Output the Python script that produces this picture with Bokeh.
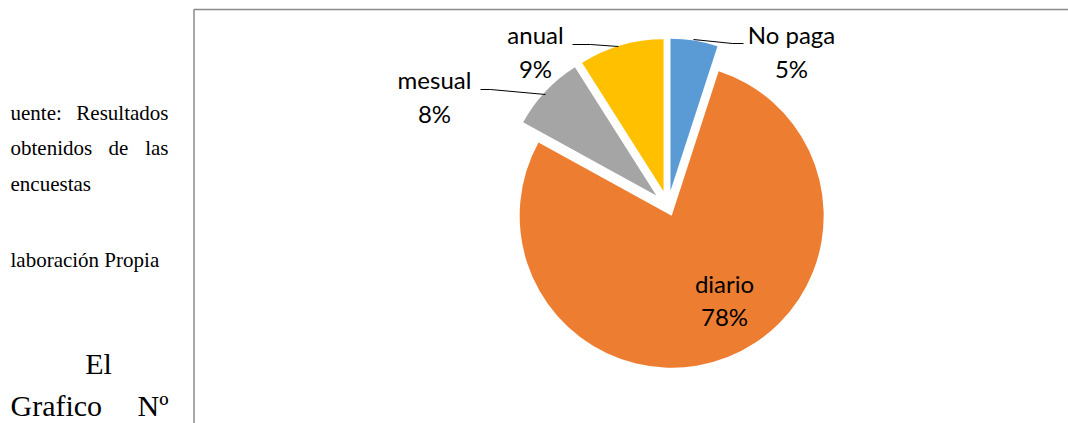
import math
from bokeh.plotting import figure
from bokeh.models import Range1d, ColumnDataSource
from bokeh.core.properties import value
from bokeh.embed import file_html
from bokeh.resources import INLINE

# ---- data ----
categories = ["No paga", "diario", "mesual", "anual"]
percent = [5, 78, 8, 9]
colors = ["#5B9BD5", "#ED7D31", "#A5A5A5", "#FFC000"]

# ---- layout / style (screen pixel coordinates of the page) ----
explode = [16, 10, 16, 16]
label_x = [791, 724, 434, 535]
label_y1 = [43, 292, 88, 43]     # baseline of category line
label_y2 = [77, 325, 122, 77]    # baseline of percent line

W, H = 1068, 423
PAGE_H = 423
TEXT_DY = 9  # empirical baseline correction for the svg text


def sy(y):
    return PAGE_H - y


def ty(y):
    return PAGE_H - (y - TEXT_DY)


p = figure(width=W, height=H, x_range=Range1d(0, W), y_range=Range1d(0, H),
           output_backend="svg", toolbar_location=None, min_border=0)
p.axis.visible = False
p.grid.visible = False
p.outline_line_color = None
p.background_fill_color = "white"

# chart box border
p.line(x=[193.5, 193.5, 1075], y=[sy(430), sy(9), sy(9)], line_color="#8a8a8a", line_width=1.5)

# pie
cx, cy, R = 667.5, sy(206), 152
total = float(sum(percent))
starts, ends, xs, ys = [], [], [], []
cum = 0.0
for v, d in zip(percent, explode):
    a0 = math.pi / 2 - 2 * math.pi * cum / total
    cum += v
    a1 = math.pi / 2 - 2 * math.pi * cum / total
    mid = (a0 + a1) / 2
    starts.append(a0)
    ends.append(a1)
    xs.append(cx + d * math.cos(mid))
    ys.append(cy + d * math.sin(mid))

src = ColumnDataSource(dict(x=xs, y=ys, start=starts, end=ends, color=colors))
p.wedge(x="x", y="y", radius=R, start_angle="start", end_angle="end", direction="clock",
        fill_color="color", line_color=None, source=src)

# leader lines
p.multi_line(xs=[[693, 732, 743], [572, 590, 618], [480, 490, 545]],
             ys=[[sy(39), sy(43), sy(43)], [sy(44), sy(44), sy(46)], [sy(89), sy(89), sy(94)]],
             line_color="#000000", line_width=1)

# data labels
lab = ColumnDataSource(dict(x=label_x, y1=[ty(v) for v in label_y1], y2=[ty(v) for v in label_y2],
                            name=categories, pct=["%d%%" % v for v in percent]))
for col in ("y1", "y2"):
    p.text(x="x", y=col, text="name" if col == "y1" else "pct", source=lab,
           text_font=value("Lato"), text_font_size="24px", text_align="center",
           text_baseline="alphabetic", text_color="#000000")

# left side document text
serif = value("Liberation Serif")
words = [
    ("uente:", 10, 121, "left"), ("Resultados", 168, 121, "right"),
    ("obtenidos", 10, 156, "left"), ("de", 118, 156, "center"), ("las", 168, 156, "right"),
    ("encuestas", 10, 192, "left"),
    ("laboración Propia", 10, 268, "left"),
]
for t, x, y, al in words:
    p.text(x=[x], y=[ty(y)], text=[t], text_font=serif, text_font_size="21px",
           text_align=al, text_baseline="alphabetic", text_color="#000000")

big = [("El", 98, 372, "center"), ("Grafico", 10, 414, "left"), ("Nº", 168, 414, "right")]
for t, x, y, al in big:
    p.text(x=[x], y=[ty(y)], text=[t], text_font=serif, text_font_size="30px",
           text_align=al, text_baseline="alphabetic", text_color="#000000")

open("out.html", "w").write(file_html(p, INLINE))
